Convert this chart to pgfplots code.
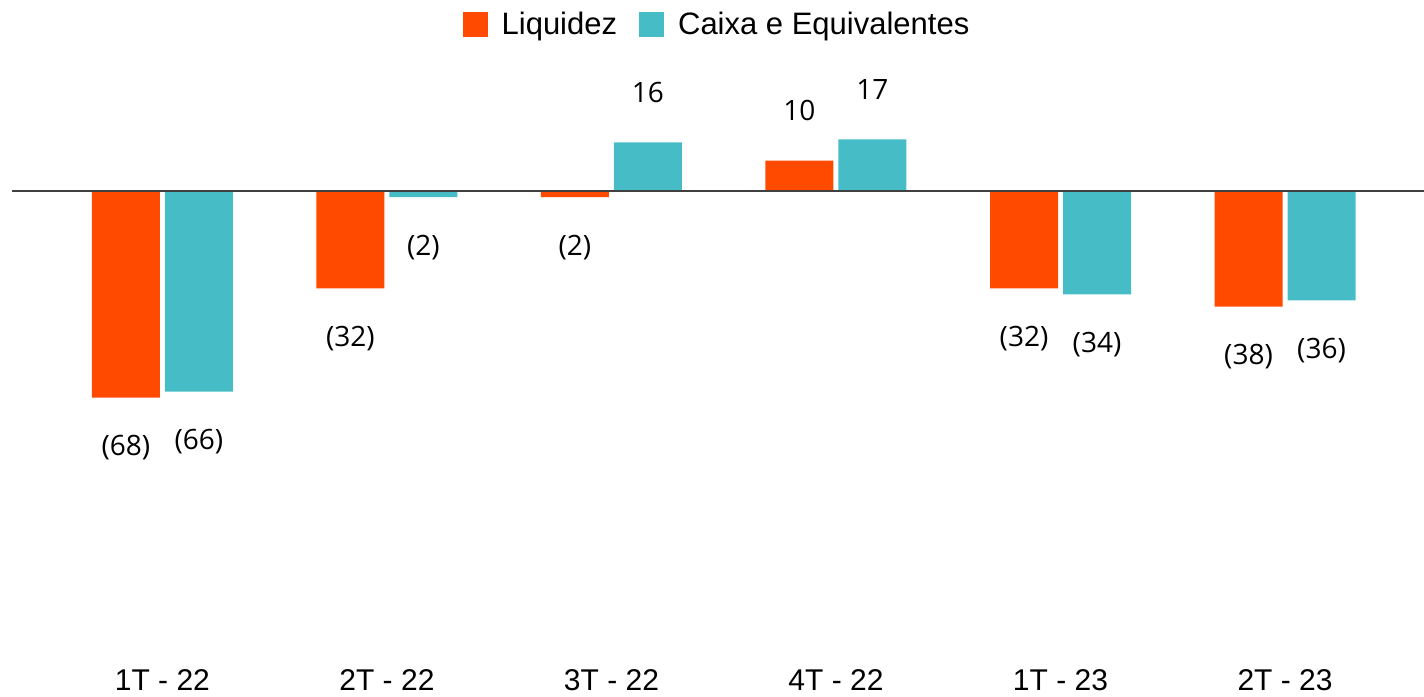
\documentclass[border=0pt]{standalone}
\usepackage{fontspec}
\setmainfont{Liberation Sans}
\newfontfamily\lblfont{Open Sans}
\usepackage{pgfplots}
\pgfplotsset{compat=1.18}
\definecolor{liq}{HTML}{FF4A00}
\definecolor{cx}{HTML}{46BDC6}
\pgfplotstableread{
x y lab
0 -68 (68)
1 -32 (32)
2 -2 (2)
3 10 10
4 -32 (32)
5 -38 (38)
}\liqdata
\pgfplotstableread{
x y lab
0 -66 (66)
1 -2 (2)
2 16 16
3 17 17
4 -34 (34)
5 -36 (36)
}\cxdata
\begin{document}
\begin{tikzpicture}
\begin{axis}[
  at={(6pt,24.5pt)}, anchor=south west,
  scale only axis, width=706pt, height=288.8pt,
  xmin=-0.670, xmax=5.619, ymin=-150, ymax=40,
  axis line style={draw=none},
  ytick=\empty,
  xtick={0,...,5},
  xticklabels={1T - 22, 2T - 22, 3T - 22, 4T - 22, 1T - 23, 2T - 23},
  x tick style={draw=none},
  xticklabel style={anchor=base, yshift=-17.5pt, font=\fontsize{15}{17}\selectfont},
  ybar, bar width=34pt,
  point meta=explicit symbolic,
  nodes near coords,
  visualization depends on={y \as \rawy},
  every node near coord/.append style={anchor=center, font=\lblfont\fontsize{14}{16}\selectfont, yshift={ifthenelse(\rawy>0,25,-25)}},
  legend style={at={(0.5,1.077)}, anchor=center, draw=none, legend columns=2,
    font=\fontsize{15.5}{17}\selectfont,
    /tikz/every odd column/.append style={column sep=5pt},
    /tikz/every even column/.append style={column sep=9pt}},
  legend image code/.code={\fill[#1] (0pt,-6.25pt) rectangle (12.5pt,6.25pt);},
  clip=false,
]
\addplot[fill=liq, draw=none, bar shift=-18.25pt] table[x=x, y=y, meta=lab] {\liqdata};
\addlegendentry{Liquidez}
\addplot[fill=cx, draw=none, bar shift=18.25pt] table[x=x, y=y, meta=lab] {\cxdata};
\addlegendentry{Caixa e Equivalentes}
\draw[color=black!75, line width=0.8pt] (axis cs:-0.670,0) -- (axis cs:5.619,0);
\end{axis}
\pgfresetboundingbox
\useasboundingbox (0,0) rectangle (712pt,348pt);
\end{tikzpicture}
\end{document}
